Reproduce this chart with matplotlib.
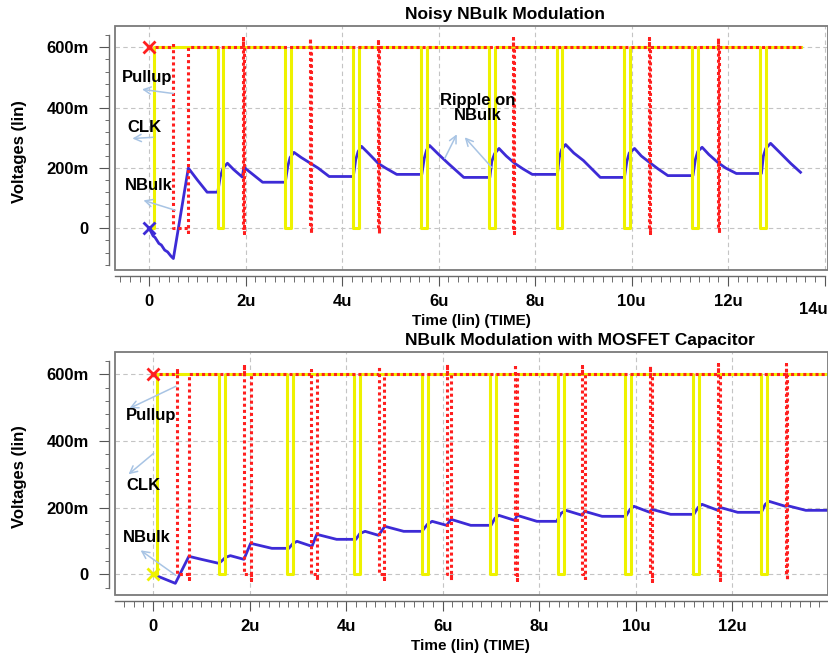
import matplotlib
matplotlib.use("Agg")
import matplotlib.pyplot as plt
from matplotlib.patches import Rectangle
from matplotlib.ticker import MultipleLocator, FixedLocator, FuncFormatter

plt.rcParams['font.family'] = ['Liberation Sans', 'DejaVu Sans']
plt.rcParams['font.weight'] = 'bold'

# ---------------- data (time in us, voltage in mV) ----------------
# top panel: "Noisy NBulk Modulation"
top_clk_rise = 0.1
top_clk_dip_start = [1.42, 2.82, 4.22, 5.63, 7.04, 8.45, 9.85, 11.26, 12.67]
top_clk_dip_end = [1.53, 2.93, 4.34, 5.75, 7.16, 8.56, 9.97, 11.38, 12.79]
top_end = 13.5

top_pull_start = [0.50, 1.95, 3.34, 4.74, 7.55, 10.36, 11.79]
top_pull_end = [0.81, 1.97, 3.36, 4.76, 7.57, 10.38, 11.81]
top_pull_hi = [618, 630, 630, 628, 630, 630, 630]
top_pull_lo = [-12, -15, -15, -15, -15, -15, -15]

top_nbulk_t = [0, 0.08, 0.12, 0.2, 0.25, 0.32, 0.38, 0.45, 0.5, 0.81, 1.0, 1.2, 1.42, 1.47, 1.53,
               1.62, 1.75, 1.93, 1.96, 2.1, 2.35, 2.82, 2.87, 2.92, 3.0, 3.15, 3.35, 3.5, 3.73,
               4.23, 4.28, 4.33, 4.4, 4.55, 4.75, 4.9, 5.13, 5.65, 5.7, 5.75, 5.81, 6.0, 6.2,
               6.52, 7.06, 7.1, 7.16, 7.25, 7.4, 7.58, 7.75, 7.94, 8.46, 8.5, 8.55, 8.63, 8.8,
               9.0, 9.35, 9.85, 9.9, 9.95, 10.06, 10.2, 10.4, 10.55, 10.75, 11.27, 11.32, 11.37,
               11.46, 11.6, 11.79, 11.95, 12.17, 12.69, 12.73, 12.78, 12.88, 13.05, 13.3, 13.5]
top_nbulk_v = [0, -25, -30, -50, -55, -72, -78, -92, -100, 200, 160, 120, 120, 170, 200,
               216, 195, 170, 203, 185, 153, 153, 205, 235, 252, 235, 215, 200, 172,
               172, 228, 255, 272, 248, 215, 200, 179, 179, 232, 260, 275, 245, 215,
               169, 169, 222, 248, 265, 240, 215, 197, 179, 179, 235, 262, 278, 250,
               225, 169, 169, 222, 250, 265, 240, 215, 197, 175, 175, 228, 255,
               269, 245, 218, 200, 182, 182, 240, 265, 282, 255, 215, 186]

# bottom panel: "NBulk Modulation with MOSFET Capacitor"
bot_clk_rise = 0.07
bot_clk_dip_start = [1.36, 2.78, 4.16, 5.57, 6.98, 8.38, 9.77, 11.18, 12.59]
bot_clk_dip_end = [1.48, 2.89, 4.28, 5.69, 7.10, 8.51, 9.90, 11.31, 12.72]
bot_end = 13.98

bot_pull_start = [0.49, 1.88, 3.27, 4.67, 6.08, 7.49, 8.89, 10.29, 11.70, 13.10]
bot_pull_end = [0.74, 2.02, 3.39, 4.78, 6.17, 7.54, 8.94, 10.33, 11.74, 13.14]
bot_pull_hi = [620, 630, 612, 625, 630, 632, 625, 625, 632, 630]
bot_pull_lo = [-15, -18, -18, -15, -18, -18, -20, -20, -18, -18]

bot_nbulk_t = [0, 0.46, 0.74, 1.0, 1.36, 1.42, 1.5, 1.6, 1.88, 2.02, 2.46, 2.81, 2.9, 2.98, 3.29,
               3.39, 3.8, 4.2, 4.28, 4.39, 4.67, 4.8, 5.19, 5.57, 5.68, 5.78, 6.08, 6.17, 6.58,
               7.0, 7.08, 7.16, 7.49, 7.54, 7.95, 8.36, 8.45, 8.55, 8.89, 8.94, 9.3, 9.79, 9.88,
               9.96, 10.29, 10.33, 10.72, 11.2, 11.29, 11.37, 11.7, 11.74, 12.11, 12.6, 12.68,
               12.76, 13.1, 13.14, 13.52, 13.98]
bot_nbulk_v = [0, -27, 54, 45, 33, 40, 51, 56, 45, 93, 78, 78, 93, 99, 84,
               120, 105, 105, 122, 129, 117, 144, 129, 129, 150, 159, 147, 165, 147,
               147, 168, 177, 162, 177, 159, 159, 183, 192, 177, 189, 174, 174, 195,
               204, 186, 195, 180, 180, 201, 210, 192, 201, 186, 186, 210,
               219, 204, 206, 192, 192]

YELLOW = '#eef200'
RED = '#ff1f1f'
BLUE = '#3d2bd6'
ARROW = '#a8c4e4'


def clk_wave(rise, starts, ends, t_end):
    t = [0, rise, rise]
    v = [0, 0, 600]
    for s, e in zip(starts, ends):
        t += [s, s, e, e]
        v += [600, 0, 0, 600]
    t.append(t_end)
    v.append(600)
    return t, v


def pull_wave(starts, ends, his, los, t_end):
    t = [0]
    v = [600]
    for s, e, hi, lo in zip(starts, ends, his, los):
        t += [s, s, s, e, e, e]
        v += [600, hi, 0, 0, lo, 600]
    t.append(t_end)
    v.append(600)
    return t, v


def setup_axes(ax, xlim, ylim, ybounds, xbounds, show14):
    ax.set_xlim(*xlim)
    ax.set_ylim(*ylim)
    for s in ['top', 'right']:
        ax.spines[s].set_visible(False)
    for s in ['left', 'bottom']:
        ax.spines[s].set_position(('outward', 4))
        ax.spines[s].set_color('#6a6a6a')
        ax.spines[s].set_linewidth(1.0)
    ax.spines['left'].set_bounds(*ybounds)
    ax.spines['bottom'].set_bounds(*xbounds)
    ax.add_patch(Rectangle((0, 0), 1, 1, transform=ax.transAxes, fill=False,
                           ec='#7a7a7a', lw=1.3, clip_on=False, zorder=10))
    ax.yaxis.set_major_locator(FixedLocator([0, 200, 400, 600]))
    ax.yaxis.set_minor_locator(MultipleLocator(40))
    ax.xaxis.set_major_locator(MultipleLocator(2))
    ax.xaxis.set_minor_locator(MultipleLocator(0.2))
    ax.yaxis.set_major_formatter(FuncFormatter(lambda v, p: '0' if v == 0 else '%dm' % v))

    def xfmt(v, p):
        if abs(v) < 1e-9:
            return '0'
        if v > 13 and not show14:
            return ''
        return '%du' % round(v)
    ax.xaxis.set_major_formatter(FuncFormatter(xfmt))
    ax.tick_params(axis='both', which='major', labelsize=12, color='#555555')
    ax.tick_params(axis='y', which='major', length=7, pad=8)
    ax.tick_params(axis='y', which='minor', length=3, color='#555555')
    ax.tick_params(axis='x', which='major', length=7, pad=6)
    ax.tick_params(axis='x', which='minor', length=4, color='#555555')
    for lab in ax.get_xticklabels() + ax.get_yticklabels():
        lab.set_fontweight('bold')
    ax.grid(True, which='major', color='#c4c4c4', linestyle=(0, (4, 3)), linewidth=0.8)
    ax.set_axisbelow(True)


def arrow(ax, start, end):
    ax.annotate('', xy=end, xytext=start,
                arrowprops=dict(arrowstyle='->', color=ARROW, lw=1.1, mutation_scale=13,
                                shrinkA=0, shrinkB=0), annotation_clip=False, zorder=6)


def label(ax, x, y, s):
    ax.text(x, y, s, fontsize=12, fontweight='bold', ha='center', va='center',
            multialignment='center', linespacing=1.0, zorder=9)


fig = plt.figure(figsize=(8.29, 6.58), dpi=100)
ax1 = fig.add_axes([115 / 829, 1 - 270 / 658, 713 / 829, 244.3 / 658])
ax2 = fig.add_axes([115 / 829, 1 - 595 / 658, 713 / 829, 243 / 658])

# top panel
setup_axes(ax1, (-0.71, 14.07), (-138, 672), (-120, 640), (-0.71, 14.0), False)
ax1.plot(top_nbulk_t, top_nbulk_v, color=BLUE, lw=2.0, zorder=3)
t, v = clk_wave(top_clk_rise, top_clk_dip_start, top_clk_dip_end, top_end)
ax1.plot(t, v, color=YELLOW, lw=2.2, zorder=4)
t, v = pull_wave(top_pull_start, top_pull_end, top_pull_hi, top_pull_lo, top_end)
ax1.plot(t, v, color=RED, lw=2.2, linestyle=(0, (1, 1)), zorder=5)
ax1.plot([0], [600], marker='x', color=RED, ms=9, mew=2, zorder=7)
ax1.plot([0], [0], marker='x', color=BLUE, ms=9, mew=2, zorder=7)

label(ax1, -0.04, 500, 'Pullup')
label(ax1, -0.09, 335, 'CLK')
label(ax1, -0.02, 143, 'NBulk')
label(ax1, 6.8, 400, 'Ripple on\nNBulk')
arrow(ax1, (0.5, 447), (-0.15, 461))
arrow(ax1, (0.08, 302), (-0.35, 298))
arrow(ax1, (0.54, 60), (-0.12, 93))
arrow(ax1, (6.125, 232), (6.375, 312))
arrow(ax1, (7.1, 202), (6.54, 302))

# bottom panel
setup_axes(ax2, (-0.79, 13.98), (-62, 667), (-40, 640), (-0.79, 13.98), True)
ax2.plot(bot_nbulk_t, bot_nbulk_v, color=BLUE, lw=2.0, zorder=3)
t, v = clk_wave(bot_clk_rise, bot_clk_dip_start, bot_clk_dip_end, bot_end)
ax2.plot(t, v, color=YELLOW, lw=2.2, zorder=4)
t, v = pull_wave(bot_pull_start, bot_pull_end, bot_pull_hi, bot_pull_lo, bot_end)
ax2.plot(t, v, color=RED, lw=2.2, linestyle=(0, (1, 1)), zorder=5)
ax2.plot([0], [600], marker='x', color=RED, ms=9, mew=2, zorder=7)
ax2.plot([0], [0], marker='x', color=YELLOW, ms=9, mew=2, zorder=7)

label(ax2, -0.05, 477, 'Pullup')
label(ax2, -0.21, 267, 'CLK')
label(ax2, -0.13, 111, 'NBulk')
arrow(ax2, (0.47, 564), (-0.49, 498))
arrow(ax2, (0.01, 363), (-0.51, 300))
arrow(ax2, (0.47, -3), (-0.26, 72))

# titles, axis labels
fig.text(405 / 829, 1 - 15 / 658, 'Noisy NBulk Modulation', fontsize=12.5,
         fontweight='bold', ha='left', va='center')
fig.text(405 / 829, 1 - 340 / 658, 'NBulk Modulation with MOSFET Capacitor', fontsize=12.5,
         fontweight='bold', ha='left', va='center')
fig.text(471 / 829, 1 - 321 / 658, 'Time (lin) (TIME)', fontsize=11,
         fontweight='bold', ha='center', va='center')
fig.text(470 / 829, 1 - 646 / 658, 'Time (lin) (TIME)', fontsize=11,
         fontweight='bold', ha='center', va='center')
fig.text(813 / 829, 1 - 310 / 658, '14u', fontsize=12, fontweight='bold',
         ha='center', va='center')
fig.text(20 / 829, 1 - 152 / 658, 'Voltages (lin)', fontsize=12, fontweight='bold',
         rotation=90, ha='center', va='center')
fig.text(20 / 829, 1 - 477 / 658, 'Voltages (lin)', fontsize=12, fontweight='bold',
         rotation=90, ha='center', va='center')

fig.savefig('out.png', dpi=100)
